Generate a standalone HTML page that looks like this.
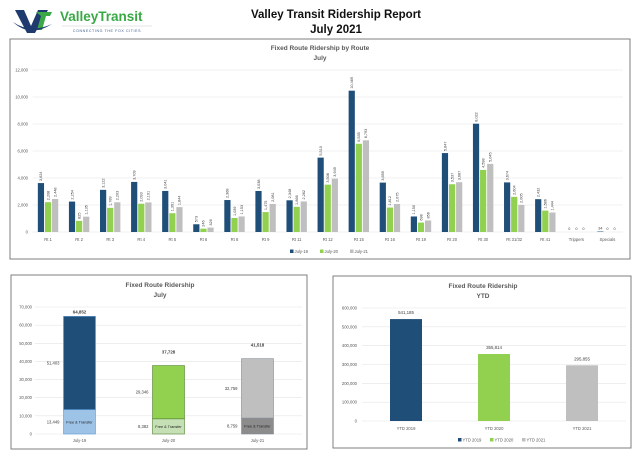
<!DOCTYPE html>
<html><head><meta charset="utf-8"><style>
body{margin:0;background:#fff;}
svg text{font-family:"Liberation Sans",sans-serif;}
</style></head><body>
<svg id="s" width="640" height="458" viewBox="0 0 640 458" xmlns="http://www.w3.org/2000/svg">
<rect width="640" height="458" fill="#fff"/>
<g>
 <path d="M15 10 L24 10 L31 26 L38 10 L48 10 L35 33 L27 33 Z" fill="#1f3a6e"/>
 <path d="M36 12 L52 12 L50 16 L46 16 L42 30 L37 30 L41 16 Z" fill="#3aa845"/>
 <path d="M13 22 Q30 38 52 24 Q30 34 13 22 Z" fill="#1f3a6e"/>
 <text x="60" y="21" font-size="13.5" font-weight="bold" fill="#3aa845">ValleyTransit</text>
 <line x1="62" y1="26" x2="152" y2="26" stroke="#ccc" stroke-width="0.6"/>
 <text x="107" y="32" font-size="3.6" fill="#3a5a8a" text-anchor="middle" letter-spacing="0.6">CONNECTING THE FOX CITIES</text>
</g>
<text x="336" y="18" font-size="11.5" font-weight="bold" text-anchor="middle" fill="#111">Valley Transit Ridership Report</text>
<text x="336" y="33" font-size="11.5" font-weight="bold" text-anchor="middle" fill="#111">July 2021</text>

<rect x="10" y="39" width="620" height="220" fill="#fff" stroke="#7f7f7f" stroke-width="1"/>
<text x="320" y="50" font-size="6.5" font-weight="bold" text-anchor="middle" fill="#595959">Fixed Route Ridership by Route</text>
<text x="320" y="60" font-size="6.5" font-weight="bold" text-anchor="middle" fill="#595959">July</text>
<g id="c1"></g>

<rect x="11" y="275" width="296" height="174" fill="#fff" stroke="#7f7f7f" stroke-width="1"/>
<text x="160" y="287" font-size="6.5" font-weight="bold" text-anchor="middle" fill="#595959">Fixed Route Ridership</text>
<text x="160" y="297" font-size="6.5" font-weight="bold" text-anchor="middle" fill="#595959">July</text>
<g id="c2"></g>

<rect x="333" y="276" width="298" height="172" fill="#fff" stroke="#7f7f7f" stroke-width="1"/>
<text x="483" y="288" font-size="6.5" font-weight="bold" text-anchor="middle" fill="#595959">Fixed Route Ridership</text>
<text x="483" y="298" font-size="6.5" font-weight="bold" text-anchor="middle" fill="#595959">YTD</text>
<g id="c3"></g>
</svg>
<script>
// ---- Chart 1 data ----
const routes = ["Rt 1","Rt 2","Rt 3","Rt 4","Rt 5","Rt 6","Rt 8","Rt 9","Rt 11","Rt 12","Rt 15","Rt 16","Rt 19","Rt 20","Rt 30","Rt 31/32","Rt 41","Trippers","Specials"];
const july19 = [3624,2254,3122,3709,3041,573,2368,3038,2348,5510,10469,3659,1150,5847,8022,3674,2432,0,34];
const july20 = [2208,825,1789,2093,1391,246,1039,1475,1866,3508,6535,1812,698,3537,4598,2604,1586,0,0];
const july21 = [2448,1135,2203,2191,1844,326,1153,2081,2262,3949,6793,2075,856,3687,5045,2005,1444,0,0];
const routeTicks = [0,2000,4000,6000,8000,10000,12000];
const seriesNames = ["July-19","July-20","July-21"];
// ---- Chart 2 data ----
const monthCats = ["July-19","July-20","July-21"];
const freeTransfer = [13449,8382,8759];
const paidRides = [51403,29346,32759];
const monthTicks = [0,10000,20000,30000,40000,50000,60000,70000];
// ---- Chart 3 data ----
const ytdCats = ["YTD 2019","YTD 2020","YTD 2021"];
const ytdVals = [541185,355814,295855];
const ytdTicks = [0,100000,200000,300000,400000,500000,600000];

const NS="http://www.w3.org/2000/svg";
const fmt=v=>v.toLocaleString("en-US");
function mk(p,tag,at,txt){const e=document.createElementNS(NS,tag);for(const k in at)e.setAttribute(k,at[k]);if(txt!==undefined)e.textContent=txt;p.appendChild(e);return e;}
const C1=["#1f4e79","#92d050","#bfbfbf"];

// Chart 1
(function(){
 const g=document.getElementById("c1");
 const x0=32.5,x1=623,y0=232,y1=70,max=12000;
 const y=v=>y0-(v/max)*(y0-y1);
 const band=(x1-x0)/routes.length;
 const cx=i=>x0+band*(i+0.5);
 routeTicks.forEach(t=>{
  const l=mk(g,"line",{x1:x0,x2:x1,y1:y(t),y2:y(t),stroke:"#e4e4e4","stroke-width":0.6});
  
  
  const tx=mk(g,"text",{x:28,y:y(t)+1.5,"font-size":4.2,"text-anchor":"end",fill:"#595959"},fmt(t));
  
  
 });
 const sers=[july19,july20,july21];
 const bw=6.2,gap=0.9;
 routes.forEach((r,i)=>{
  sers.forEach((s,k)=>{
   const bx=cx(i)+(k-1)*(bw+gap)-bw/2;
   const b=mk(g,"rect",{x:bx,y:y(s[i]),width:bw,height:y0-y(s[i]),fill:C1[k]});
   
   
   const lx=bx+bw/2+1.3,ly=y(s[i])-2;
   let t;
   if(s[i]<100){t=mk(g,"text",{x:bx+bw/2,y:y(s[i])-2,"font-size":3.8,"text-anchor":"middle",fill:"#404040"},fmt(s[i]));}
   else t=mk(g,"text",{x:lx,y:ly,"font-size":3.8,fill:"#404040",transform:`rotate(-90 ${lx} ${ly})`},fmt(s[i]));
   
   
  });
  const lt=mk(g,"text",{x:cx(i),y:241,"font-size":4.2,"text-anchor":"middle",fill:"#595959"},r);
  
  
 });
 let lx=290;
 seriesNames.forEach((n,k)=>{
  const sw=mk(g,"rect",{x:lx,y:249.5,width:3.5,height:3.5,fill:C1[k]});
  
  
  const t=mk(g,"text",{x:lx+4.5,y:253,"font-size":4.2,fill:"#595959"},n);
  
  
  lx+=30;
 });
})();

// Chart 2
(function(){
 const g=document.getElementById("c2");
 const x0=35,x1=302,y0=434,y1=307,max=70000;
 const y=v=>y0-(v/max)*(y0-y1);
 const band=(x1-x0)/monthCats.length;
 const cx=i=>x0+band*(i+0.5);
 const dark=["#1f4e79","#92d050","#bfbfbf"],light=["#9dc3e6","#c5e0b4","#8c8c8c"],stroke=["#5b9bd5","#548235","#7f8c99"];
 monthTicks.forEach(t=>{
  const l=mk(g,"line",{x1:x0,x2:x1,y1:y(t),y2:y(t),stroke:"#e4e4e4","stroke-width":0.6});
  
  
  const tx=mk(g,"text",{x:32,y:y(t)+1.5,"font-size":4.2,"text-anchor":"end",fill:"#595959"},fmt(t));
  
  
 });
 const bw=32;
 monthCats.forEach((c,i)=>{
  const bx=cx(i)-bw/2,tot=freeTransfer[i]+paidRides[i];
  const b1=mk(g,"rect",{x:bx,y:y(freeTransfer[i]),width:bw,height:y0-y(freeTransfer[i]),fill:light[i],stroke:stroke[i],"stroke-width":0.6});
  
  
  const b2=mk(g,"rect",{x:bx,y:y(tot),width:bw,height:y(freeTransfer[i])-y(tot),fill:dark[i],stroke:stroke[i],"stroke-width":0.6});
  
  
  const ft=mk(g,"text",{x:cx(i),y:(y0+y(freeTransfer[i]))/2+1.5,"font-size":3.8,"text-anchor":"middle",fill:"#222"},"Free & Transfer");
  
  
  const v1=mk(g,"text",{x:bx-4,y:(y0+y(freeTransfer[i]))/2+1.5,"font-size":4.2,"text-anchor":"end",fill:"#404040"},fmt(freeTransfer[i]));
  
  
  const v2=mk(g,"text",{x:bx-4,y:y(freeTransfer[i]+paidRides[i]/2)+1.5,"font-size":4.2,"text-anchor":"end",fill:"#404040"},fmt(paidRides[i]));
  
  
  const v3=mk(g,"text",{x:cx(i),y:y(tot)-(i==0?3:12),"font-size":4.4,"font-weight":"bold","text-anchor":"middle",fill:"#404040"},fmt(tot));
  
  
  const xl=mk(g,"text",{x:cx(i),y:442,"font-size":4.2,"text-anchor":"middle",fill:"#595959"},c);
  
  
 });
})();

// Chart 3
(function(){
 const g=document.getElementById("c3");
 const x0=362,x1=626,y0=421,y1=308,max=600000;
 const y=v=>y0-(v/max)*(y0-y1);
 const band=(x1-x0)/ytdCats.length;
 const cx=i=>x0+band*(i+0.5);
 ytdTicks.forEach(t=>{
  const l=mk(g,"line",{x1:x0,x2:x1,y1:y(t),y2:y(t),stroke:"#e4e4e4","stroke-width":0.6});
  
  
  const tx=mk(g,"text",{x:357,y:y(t)+1.5,"font-size":4.2,"text-anchor":"end",fill:"#595959"},fmt(t));
  
  
 });
 const bw=32;
 ytdCats.forEach((c,i)=>{
  const b=mk(g,"rect",{x:cx(i)-bw/2,y:y(ytdVals[i]),width:bw,height:y0-y(ytdVals[i]),fill:C1[i]});
  
  
  const v=mk(g,"text",{x:cx(i),y:y(ytdVals[i])-5,"font-size":4.4,"text-anchor":"middle",fill:"#404040"},fmt(ytdVals[i]));
  
  
  const xl=mk(g,"text",{x:cx(i),y:430,"font-size":4.2,"text-anchor":"middle",fill:"#595959"},c);
  
  
 });
 let lx=458;
 ytdCats.forEach((n,k)=>{
  const sw=mk(g,"rect",{x:lx,y:438,width:3.5,height:3.5,fill:C1[k]});
  
  
  const t=mk(g,"text",{x:lx+4.5,y:441.5,"font-size":4.2,fill:"#595959"},n);
  
  
  lx+=32;
 });
})();
</script>
</body></html>
